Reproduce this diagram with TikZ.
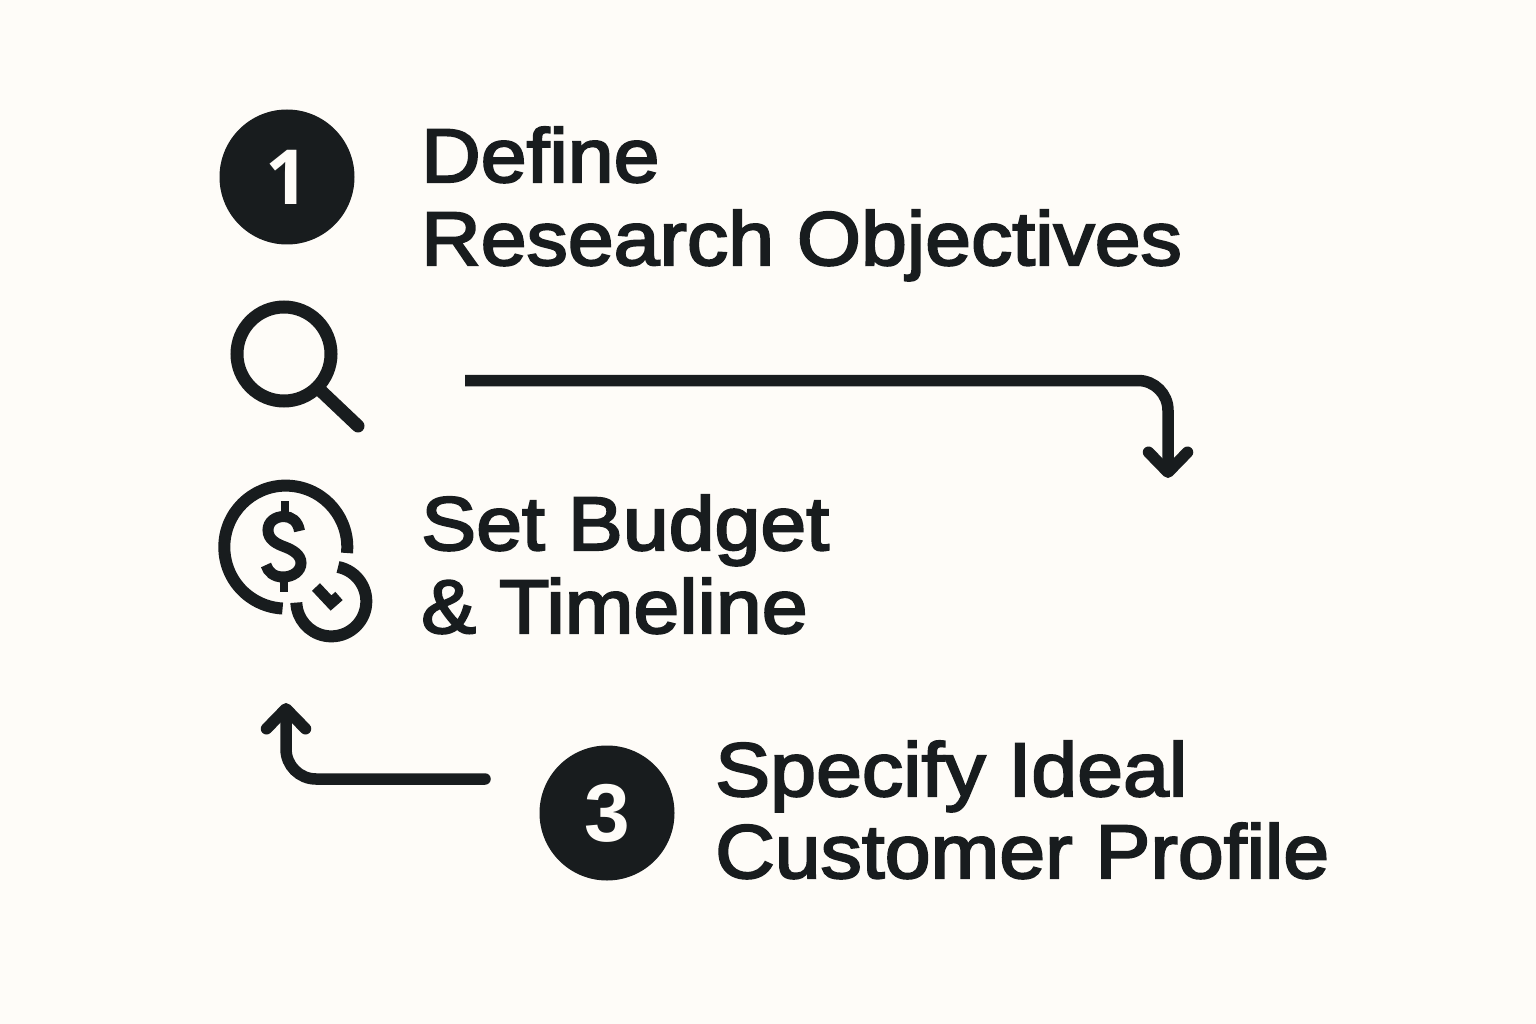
\documentclass[tikz,border=0pt]{standalone}
\usepackage{fontspec}
\usetikzlibrary{arrows.meta}
\newfontfamily\lab[FakeBold=2.8,FakeStretch=1.085]{Liberation Sans}
\newfontfamily\numa{Open Sans}
\newfontfamily\numb{Liberation Sans}
\definecolor{ink}{HTML}{181C1E}
\definecolor{paper}{HTML}{FEFCF8}
\tikzset{
  x=1pt,y=-1pt,
  label text/.style={inner sep=0pt,anchor=base west,align=left,text=ink,font=\lab\fontsize{76}{83}\selectfont},
  badge/.style={circle,fill=ink,text=paper,inner sep=0pt,minimum size=135pt},
  icon/.style={draw=ink,line width=12pt},
  conn/.style={draw=ink,line width=11.5pt,rounded corners=30pt,-{Straight Barb[length=20pt,width=39pt,round]}},
}
\begin{document}
\begin{tikzpicture}
\fill[paper] (0,0) rectangle (1536,1024);
\useasboundingbox (0,0) rectangle (1536,1024);
% badges
\node[badge,font=\numa\bfseries\fontsize{76}{80}\selectfont] (one) at (287,177) {\raisebox{-2pt}{1}};
\node[badge,font=\numb\bfseries\fontsize{82}{84}\selectfont] (three) at (607,813) {3};
% labels
\node[label text] (define) at (421,182) {Define};
\node[label text] (research) at (421,265) {Research Objectives};
\node[label text] (budget) at (421,550) {Set Budget};
\node[label text] (timeline) at (421,633) {\& Timeline};
\node[label text] (specify) at (715,796) {Specify Ideal};
\node[label text] (customer) at (715,878) {Customer Profile};
% magnifier
\draw[icon,line width=13pt] (284,354) circle[radius=47];
\draw[icon,line width=13pt,line cap=round] (320,390) -- (358,426);
% dollar coin
\draw[icon] (347,553) arc[start angle=5.5,end angle=-267,radius=61.5];
\draw[icon,line width=11pt] (299.5,531) .. controls (298,521) and (291,516.5) .. (284,516.5)
  .. controls (275,516.5) and (268,522) .. (268,530)
  .. controls (268,540) and (277,544) .. (285,547)
  .. controls (293,550) and (301,555) .. (301,563)
  .. controls (301,571) and (293,577) .. (283,577)
  .. controls (274,577) and (268,572) .. (266,565);
\draw[icon,line width=8.5pt] (285,501) -- (285,516);
\draw[icon,line width=8.5pt] (284,578) -- (284,592);
% clock
\draw[icon] (338,567) arc[start angle=-79,end angle=178,radius=35];
\draw[icon,line width=11pt,miter limit=10] (316,587) -- (331,603) -- (339,596);
% connectors
\coordinate (a1s) at (465,380.5);
\coordinate (a1c) at (1168,380.5);
\coordinate (a1e) at (1168,478);
\coordinate (a2s) at (485,779);
\coordinate (a2c) at (286,779);
\coordinate (a2e) at (286,703);
\draw[conn] (a1s) -- (a1c) -- (a1e);
\draw[conn,line cap=round] (a2s) -- (a2c) -- (a2e);
\end{tikzpicture}
\end{document}
